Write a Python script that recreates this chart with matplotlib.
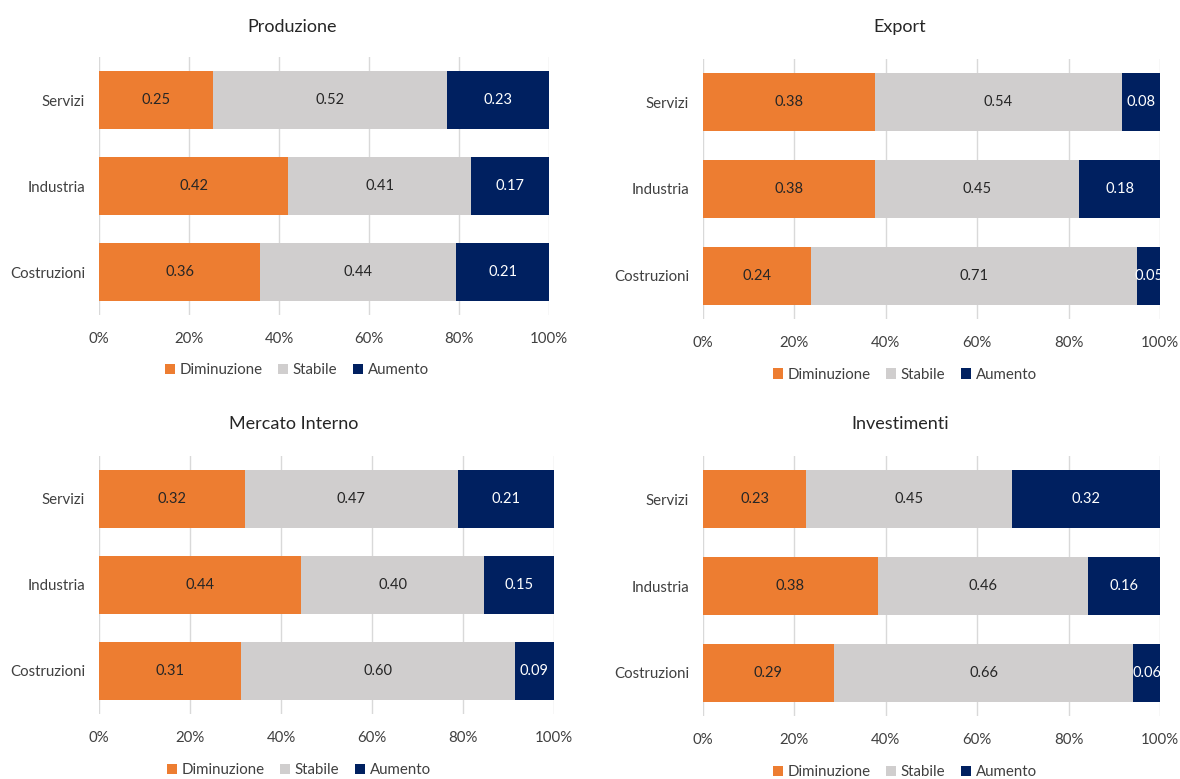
import matplotlib.pyplot as plt
from matplotlib.patches import Patch

plt.rcParams['font.family'] = ['Lato', 'DejaVu Sans']

# settori (dal basso verso l'alto)
settori = ['Costruzioni', 'Industria', 'Servizi']
serie = ['Diminuzione', 'Stabile', 'Aumento']
colori = ['#ED7D31', '#D0CECE', '#002060']
col_testo = ['#262626', '#262626', '#FFFFFF']

# quote per settore: Costruzioni, Industria, Servizi
produzione_dim = [0.358, 0.420, 0.254]
produzione_sta = [0.436, 0.407, 0.519]
produzione_aum = [0.206, 0.173, 0.227]

export_dim = [0.236, 0.377, 0.376]
export_sta = [0.714, 0.446, 0.541]
export_aum = [0.050, 0.177, 0.083]

mercato_dim = [0.312, 0.444, 0.320]
mercato_sta = [0.602, 0.403, 0.468]
mercato_aum = [0.086, 0.153, 0.212]

invest_dim = [0.286, 0.382, 0.226]
invest_sta = [0.656, 0.460, 0.451]
invest_aum = [0.058, 0.158, 0.323]

W, H = 1180, 779
fig = plt.figure(figsize=(W / 100, H / 100), dpi=100)
fig.patch.set_facecolor('white')

# (titolo, dati, box assi in pixel [sx, dx, alto, basso], centro titolo x, y titolo, y legenda)
pannelli = [
    ('Produzione', (produzione_dim, produzione_sta, produzione_aum), (99, 549, 57, 315), 292, 27, 370),
    ('Export', (export_dim, export_sta, export_aum), (703, 1160, 59, 319), 900, 27, 375),
    ('Mercato Interno', (mercato_dim, mercato_sta, mercato_aum), (99, 554, 456, 714), 294, 424, 770),
    ('Investimenti', (invest_dim, invest_sta, invest_aum), (703, 1160, 456, 716), 900, 424, 772),
]

for titolo, dati, (x0, x1, y0, y1), tx, ty, ly in pannelli:
    ax = fig.add_axes([x0 / W, 1 - y1 / H, (x1 - x0) / W, (y1 - y0) / H])
    left = [0.0] * len(settori)
    for valori, col, ct in zip(dati, colori, col_testo):
        ax.barh(settori, valori, left=left, height=0.67, color=col, zorder=2)
        for i, v in enumerate(valori):
            ax.text(left[i] + v / 2, i, f'{v:.2f}', ha='center', va='center',
                    fontsize=10.5, color=ct, clip_on=True, zorder=3)
        left = [l + v for l, v in zip(left, valori)]
    ax.set_xlim(0, 1)
    ax.set_ylim(-0.5, 2.5)
    ax.set_xticks([0, 0.2, 0.4, 0.6, 0.8, 1.0])
    ax.set_xticklabels(['0%', '20%', '40%', '60%', '80%', '100%'])
    ax.grid(axis='x', color='#D9D9D9', linewidth=1, zorder=0)
    ax.set_axisbelow(True)
    for s in ax.spines.values():
        s.set_visible(False)
    ax.tick_params(axis='both', length=0, labelsize=10.8, colors='#404040')
    ax.tick_params(axis='x', pad=12)
    ax.tick_params(axis='y', pad=10)
    fig.text(tx / W, 1 - ty / H, titolo, ha='center', va='center', fontsize=13, color='#262626')
    handles = [Patch(facecolor=c, edgecolor='none') for c in colori]
    fig.legend(handles, serie, loc='center', bbox_to_anchor=(tx / W + 0.004, 1 - ly / H),
               ncol=3, frameon=False, fontsize=10.8, handlelength=0.7, handleheight=0.7,
               handletextpad=0.3, columnspacing=1.0, labelcolor='#404040')

fig.savefig('out.png', dpi=100)
